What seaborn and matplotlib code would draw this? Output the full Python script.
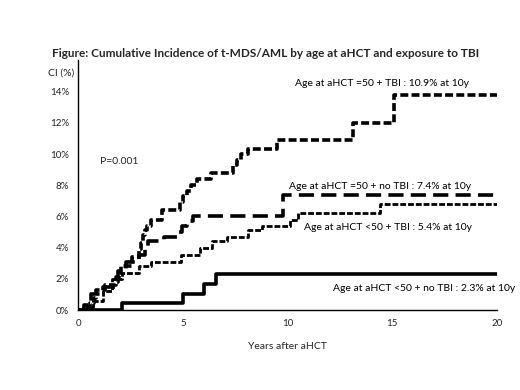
import pandas as pd
import matplotlib.pyplot as plt
import seaborn as sns

# Step curves (years, cumulative incidence %)
old_tbi_x = [0, 0.35, 0.55, 0.75, 0.85, 1.3, 1.8, 1.95, 2.05, 2.6, 2.9, 3.0, 3.1, 3.2, 3.3, 3.5,
             4.0, 4.85, 5.0, 5.2, 5.4, 5.7, 6.35, 7.4, 7.6, 7.8, 8.1, 9.5, 13.1, 15.1, 20]
old_tbi_y = [0, 0.2, 0.45, 0.8, 1.3, 1.6, 2.1, 2.4, 2.8, 3.4, 3.9, 4.3, 4.8, 5.1, 5.4, 5.8,
             6.4, 6.9, 7.3, 7.6, 8.0, 8.4, 8.8, 9.3, 9.6, 10.0, 10.3, 10.9, 12.0, 13.8, 13.8]

old_notbi_x = [0, 0.3, 0.6, 1.2, 1.8, 1.9, 2.3, 2.9, 3.2, 3.35, 4.1, 4.75, 4.95, 5.2, 5.5, 9.8, 20]
old_notbi_y = [0, 0.3, 1.0, 1.5, 1.8, 2.5, 3.1, 3.5, 4.0, 4.4, 4.7, 5.0, 5.4, 5.7, 6.0, 7.4, 7.4]

young_tbi_x = [0, 0.45, 0.7, 1.2, 1.6, 2.1, 2.9, 3.5, 4.9, 5.8, 6.4, 7.1, 8.1, 8.8, 10.1, 10.5, 14.4, 20]
young_tbi_y = [0, 0.2, 0.6, 1.2, 2.0, 2.4, 2.8, 3.1, 3.5, 4.0, 4.4, 4.7, 5.1, 5.4, 5.8, 6.2, 6.8, 6.8]

young_notbi_x = [0, 2.1, 5.0, 6.0, 6.6, 20]
young_notbi_y = [0, 0.45, 1.0, 1.7, 2.3, 2.3]

labels = [
    "Age at aHCT =50 + TBI : 10.9% at 10y",
    "Age at aHCT =50 + no TBI : 7.4% at 10y",
    "Age at aHCT <50 + TBI : 5.4% at 10y",
    "Age at aHCT <50 + no TBI : 2.3% at 10y",
]
label_pos = [(14.5, 14.5), (14.4, 7.9), (14.8, 5.3), (16.5, 1.4)]

series = [
    (old_tbi_x, old_tbi_y, 2.6, (0, (2.2, 0.9))),
    (old_notbi_x, old_notbi_y, 2.6, (0, (4.2, 2.0))),
    (young_tbi_x, young_tbi_y, 2.0, (0, (2.1, 0.7))),
    (young_notbi_x, young_notbi_y, 2.6, "-"),
]

sns.set_theme(style="white")
plt.rcParams["font.family"] = ["Lato", "DejaVu Sans"]

fig = plt.figure(figsize=(5.2, 3.9), dpi=100)
ax = fig.add_axes([0.15, 0.205, 0.806, 0.64])

for (xs, ys, lw, ls), name in zip(series, labels):
    df = pd.DataFrame({"years": xs, "ci": ys})
    sns.lineplot(data=df, x="years", y="ci", ax=ax, estimator=None, sort=False,
                 drawstyle="steps-post", color="black", linewidth=lw, linestyle=ls)

for name, (tx, ty) in zip(labels, label_pos):
    ax.text(tx, ty, name, ha="center", va="center", fontsize=7.5, color="black")

ax.text(1.05, 9.5, "P=0.001", ha="left", va="center", fontsize=7.5)

ax.set_xlim(0, 20)
ax.set_ylim(0, 16)
ax.set_xticks([0, 5, 10, 15, 20])
ax.set_yticks(range(0, 15, 2))
ax.set_yticklabels([f"{v}%" for v in range(0, 15, 2)])
ax.set_xlabel("Years after aHCT", fontsize=7.5, labelpad=10)
ax.set_ylabel("")
ax.tick_params(axis="both", direction="inout", length=6, width=1, labelsize=7, color="black")
for side in ["top", "right"]:
    ax.spines[side].set_visible(False)
for side in ["left", "bottom"]:
    ax.spines[side].set_color("black")
    ax.spines[side].set_linewidth(1)

fig.text(0.093, 0.813, "CI (%)", fontsize=7.5, ha="left", va="center")
fig.suptitle("Figure: Cumulative Incidence of t-MDS/AML by age at aHCT and exposure to TBI",
             x=0.51, y=0.877, fontsize=8.5, fontweight="bold")

plt.savefig("out.png", dpi=100)
plt.close()
